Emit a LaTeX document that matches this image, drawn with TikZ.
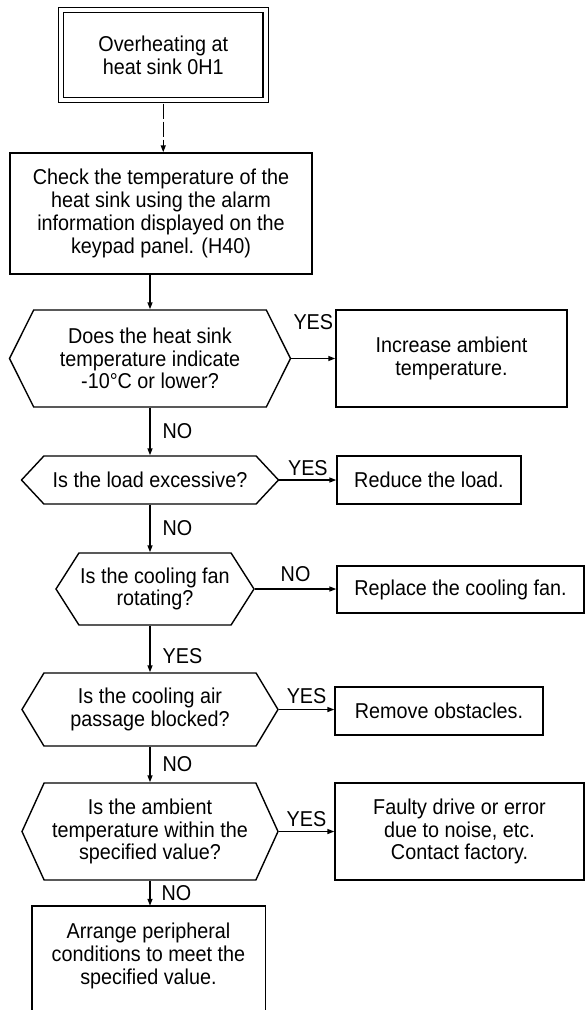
\documentclass[tikz,border=0pt]{standalone}
\usepackage{fontspec}
\setmainfont[FakeStretch=0.92]{Liberation Sans}
\usepackage{tikz}
\usetikzlibrary{shapes.symbols, arrows.meta, positioning, calc}

\tikzset{
  boxline/.style={line width=1.4pt},
  startbox/.style={boxline, draw, double, double distance=4pt, align=center, inner sep=0pt},
  procbox/.style={boxline, draw, rectangle, align=center, inner sep=0pt},
  askbox/.style={boxline, draw, signal, signal to=east and west, align=center, inner sep=0pt},
  flow/.style={line width=1.4pt, -{Triangle[length=7pt,width=5pt]}},
  tag/.style={inner sep=0pt}
}

\begin{document}
\begin{tikzpicture}[x=1pt, y=-1pt, font=\fontsize{21.5}{22.8}\selectfont]
    \useasboundingbox (0,0) rectangle (585,1010);

    % main column
    \node[startbox, minimum width=204.5pt, minimum height=90pt] (oh) at (163.25,55)
      {Overheating at\\heat sink 0H1};
    \node[procbox, minimum width=302pt, minimum height=121pt] (chk) at (161,213.5)
      {Check the temperature of the\\heat sink using the alarm\\information displayed on the\\keypad panel. (H40)};
    \node[askbox, minimum width=281pt, minimum height=97pt, signal pointer angle=127] (q1) at (150,358.5)
      {Does the heat sink\\temperature indicate\\-10°C or lower?};
    \node[askbox, minimum width=257pt, minimum height=48pt, signal pointer angle=94] (q2) at (150,480)
      {Is the load excessive?};
    \node[askbox, minimum width=198pt, minimum height=72pt, signal pointer angle=115] (q3) at (155,589)
      {Is the cooling fan\\rotating?};
    \node[askbox, minimum width=256pt, minimum height=73pt, signal pointer angle=118] (q4) at (150,709.5)
      {Is the cooling air\\passage blocked?};
    \node[askbox, minimum width=256pt, minimum height=97pt, signal pointer angle=131] (q5) at (150,831.5)
      {Is the ambient\\temperature within the\\specified value?};
    \node[tag, minimum width=233pt, minimum height=100pt, align=center] (fin) at (148.5,956)
      {Arrange peripheral\\conditions to meet the\\specified value.};
    \draw[boxline] ([yshift=-10pt]fin.south west) -- (fin.north west) -- (fin.north east) -- ([yshift=-10pt]fin.south east);

    % remedies
    \node[procbox, minimum width=231pt, minimum height=97pt] (inc) at (451.5,358.5)
      {Increase ambient\\temperature.};
    \node[procbox, minimum width=184pt, minimum height=48pt] (red) at (429,480)
      {Reduce the load.};
    \node[procbox, minimum width=247pt, minimum height=47pt] (rep) at (460.5,589.5)
      {Replace the cooling fan.};
    \node[procbox, minimum width=208pt, minimum height=48pt] (rem) at (439,711)
      {Remove obstacles.};
    \node[procbox, minimum width=249pt, minimum height=97pt] (fac) at (459.5,831.5)
      {Faulty drive or error\\due to noise, etc.\\Contact factory.};

    % connectors
    \draw[flow, dash pattern=on 15pt off 3pt, shorten <=3pt] (oh.south) -- (oh.south |- chk.north);
    \draw[flow] (chk.south -| q1.north) -- (q1.north);
    \draw[flow] (q1.south) -- node[tag, right=12pt] {NO} (q2.north);
    \draw[flow] (q2.south) -- node[tag, right=12pt] {NO} (q2.south |- q3.north);
    \draw[flow] (q3.south -| q4.north) -- node[tag, right=12pt, pos=0.65] {YES} (q4.north);
    \draw[flow] (q4.south) -- node[tag, right=12pt] {NO} (q5.north);
    \draw[flow] (q5.south) -- node[tag, right=11pt] {NO} (q5.south |- fin.north);

    \draw[flow] (q1.east) -- node[tag, above=28pt] {YES} (inc.west);
    \draw[flow] (q2.east) -- node[tag, above=4pt] {YES} (red.west);
    \draw[flow] (q3.east) -- node[tag, above=7pt] {NO} (q3.east -| rep.west);
    \draw[flow] (q4.east) -- node[tag, above=5pt] {YES} (q4.east -| rem.west);
    \draw[flow] (q5.east) -- node[tag, above=4pt] {YES} (fac.west);
\end{tikzpicture}
\end{document}
